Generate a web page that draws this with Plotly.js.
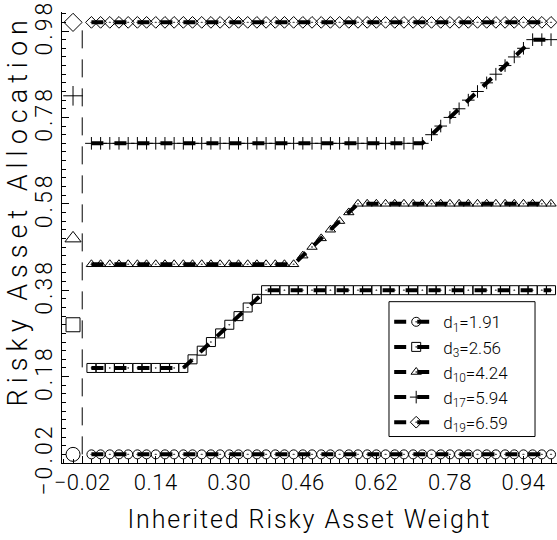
<!DOCTYPE html>
<html><head><meta charset="utf-8">
<script src="https://cdn.plot.ly/plotly-3.0.1.min.js"></script>
<style>
html,body{margin:0;padding:0;background:#fff}
#chart{width:557px;height:540px}
#chart .annotation-text{letter-spacing:6px}
#chart .xtitle{letter-spacing:1.9px}
#chart .ytick text{letter-spacing:3px}
#chart .xtick text{letter-spacing:0.5px}
</style>
</head><body><div id="chart"></div>
<script>
// Inherited risky asset weight grid
const weights = [0.00,0.02,0.04,0.06,0.08,0.10,0.12,0.14,0.16,0.18,0.20,0.22,0.24,0.26,0.28,0.30,0.32,0.34,0.36,0.38,0.40,0.42,0.44,0.46,0.48,0.50,0.52,0.54,0.56,0.58,0.60,0.62,0.64,0.66,0.68,0.70,0.72,0.74,0.76,0.78,0.80,0.82,0.84,0.86,0.88,0.90,0.92,0.94,0.96,0.98,1.00];

// Risky asset allocation for each d
const alloc_d1  = [0,0,0,0,0,0,0,0,0,0,0,0,0,0,0,0,0,0,0,0,0,0,0,0,0,0,0,0,0,0,0,0,0,0,0,0,0,0,0,0,0,0,0,0,0,0,0,0,0,0,0];
const alloc_d3  = [0.20,0.20,0.20,0.20,0.20,0.20,0.20,0.20,0.20,0.20,0.20,0.22,0.24,0.26,0.28,0.30,0.32,0.34,0.36,0.38,0.38,0.38,0.38,0.38,0.38,0.38,0.38,0.38,0.38,0.38,0.38,0.38,0.38,0.38,0.38,0.38,0.38,0.38,0.38,0.38,0.38,0.38,0.38,0.38,0.38,0.38,0.38,0.38,0.38,0.38,0.38];
const alloc_d10 = [0.44,0.44,0.44,0.44,0.44,0.44,0.44,0.44,0.44,0.44,0.44,0.44,0.44,0.44,0.44,0.44,0.44,0.44,0.44,0.44,0.44,0.44,0.44,0.46,0.48,0.50,0.52,0.54,0.56,0.58,0.58,0.58,0.58,0.58,0.58,0.58,0.58,0.58,0.58,0.58,0.58,0.58,0.58,0.58,0.58,0.58,0.58,0.58,0.58,0.58,0.58];
const alloc_d17 = [0.72,0.72,0.72,0.72,0.72,0.72,0.72,0.72,0.72,0.72,0.72,0.72,0.72,0.72,0.72,0.72,0.72,0.72,0.72,0.72,0.72,0.72,0.72,0.72,0.72,0.72,0.72,0.72,0.72,0.72,0.72,0.72,0.72,0.72,0.72,0.72,0.72,0.74,0.76,0.78,0.80,0.82,0.84,0.86,0.88,0.90,0.92,0.94,0.96,0.96,0.96];
const alloc_d19 = [1,1,1,1,1,1,1,1,1,1,1,1,1,1,1,1,1,1,1,1,1,1,1,1,1,1,1,1,1,1,1,1,1,1,1,1,1,1,1,1,1,1,1,1,1,1,1,1,1,1,1];

const seriesNames = ['d<sub>1</sub>=1.91','d<sub>3</sub>=2.56','d<sub>10</sub>=4.24','d<sub>17</sub>=5.94','d<sub>19</sub>=6.59'];
const seriesSymbols = ['circle-open-dot','square-open-dot','triangle-up-open-dot','cross-thin-open','diamond-open-dot'];

// Allocations with no inherited position (left column markers)
const noInheritX = [-0.04,-0.04,-0.04,-0.04,-0.04];
const noInheritY = [0.00,0.30,0.50,0.83,1.00];
const noInheritSymbols = ['circle-open','square-open','triangle-up-open','cross-thin-open','diamond-open'];

// Vertical dashed reference line
const refLineX = [-0.02,-0.02];
const refLineY = [0.0,1.0];

const allSeries = [alloc_d1, alloc_d3, alloc_d10, alloc_d17, alloc_d19];

const FONT = 'Roboto, Liberation Sans, Arial, sans-serif';
const W = 300;
const traces = [];
traces.push({x: refLineX, y: refLineY, mode: 'lines', showlegend: false, hoverinfo: 'skip',
  line: {color: '#000', width: 1, dash: '18px,11px'}});
allSeries.forEach((ys, i) => {
  traces.push({
    x: weights, y: ys, name: seriesNames[i], mode: 'lines+markers',
    line: {color: '#000', width: 4, dash: '12px,11px'},
    marker: {symbol: seriesSymbols[i], size: 9, color: '#000', line: {color: '#000', width: 1}}
  });
});
traces.push({x: noInheritX, y: noInheritY, mode: 'markers', showlegend: false,
  marker: {symbol: noInheritSymbols, size: 14, color: '#000', line: {color: '#000', width: 1}}});

const layout = {
  width: 557, height: 540,
  margin: {l: 62, r: 0, t: 12, b: 76.5},
  paper_bgcolor: '#fff', plot_bgcolor: '#fff',
  font: {family: FONT, color: '#000', weight: W},
  showlegend: true,
  legend: {x: 0.661, y: 0.352, xanchor: 'left', yanchor: 'top', bgcolor: 'rgba(0,0,0,0)',
    borderwidth: 0, itemwidth: 44,
    font: {family: FONT, size: 17, color: '#000', weight: W}},
  shapes: [{type: 'rect', xref: 'paper', yref: 'paper', x0: 0.6606, x1: 0.9556, y0: 0.0587, y1: 0.3577,
    line: {color: '#000', width: 1}, fillcolor: '#fff', layer: 'above'}],
  annotations: [{
    text: 'Risky Asset Allocation', textangle: -90, showarrow: false,
    xref: 'paper', yref: 'paper', x: -0.089, y: 0.56, xanchor: 'center', yanchor: 'middle',
    font: {family: FONT, size: 27, color: '#000', weight: W}
  }],
  xaxis: {
    range: [-0.064, 1.013], tick0: -0.02, dtick: 0.16, tickformat: '.2f',
    showgrid: false, zeroline: false, showline: true, linecolor: '#000', linewidth: 1,
    ticks: 'inside', ticklen: 7, tickcolor: '#000',
    minor: {dtick: 0.02, ticks: 'inside', ticklen: 4, tickcolor: '#000'},
    tickfont: {family: FONT, size: 22, color: '#000', weight: W},
    title: {text: 'Inherited Risky Asset Weight', font: {family: FONT, size: 25, color: '#000', weight: W}, standoff: 16}
  },
  yaxis: {
    range: [-0.02, 1.024], tick0: -0.02, dtick: 0.2, tickformat: '.2f', tickangle: -90,
    showgrid: false, zeroline: false, showline: true, linecolor: '#000', linewidth: 1,
    ticks: 'inside', ticklen: 7, tickcolor: '#000',
    minor: {dtick: 0.02, ticks: 'inside', ticklen: 4, tickcolor: '#000'},
    tickfont: {family: FONT, size: 23, color: '#000', weight: W}
  }
};

Plotly.newPlot('chart', traces, layout, {displayModeBar: false, staticPlot: true});
</script>
</body></html>
